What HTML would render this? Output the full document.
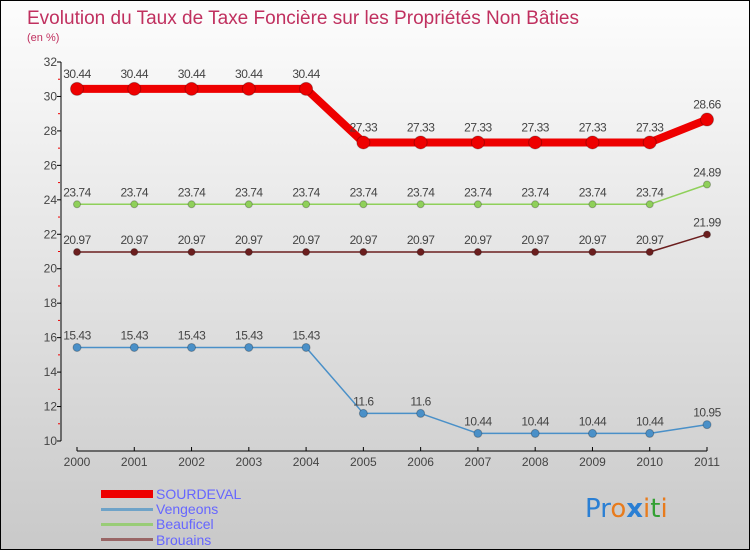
<!DOCTYPE html>
<html><head><meta charset="utf-8"><style>
body{margin:0}
#c{width:750px;height:550px;position:relative;overflow:hidden;box-sizing:border-box;border:1px solid #000;background:linear-gradient(#fdfdfd,#c9c9c9);font-family:"Liberation Sans",sans-serif}
</style></head><body>
<div id="c">
<svg id="s" width="750" height="550" style="position:absolute;left:0;top:0" font-family="Liberation Sans, sans-serif">
<text x="26" y="23" font-size="19" fill="#c0305f" textLength="552">Evolution du Taux de Taxe Foncière sur les Propriétés Non Bâties</text>
<text x="26" y="40" font-size="11" fill="#c0305f">(en %)</text>
<g id="ax"></g><g id="series"></g>
<g>
<rect x="100" y="489" width="52" height="8" fill="#ee0000"/>
<text x="155" y="498" font-size="14" fill="#6666ff">SOURDEVAL</text>
<rect x="100" y="507" width="52" height="3" fill="#6fa3c8"/>
<text x="155" y="513" font-size="14" fill="#6666ff">Vengeons</text>
<rect x="100" y="522" width="52" height="3" fill="#99cc77"/>
<text x="155" y="528" font-size="14" fill="#6666ff">Beauficel</text>
<rect x="100" y="537" width="52" height="3" fill="#996666"/>
<text x="155" y="544" font-size="14" fill="#6666ff">Brouains</text>
</g>
<g font-size="26" font-family="'DejaVu Sans',sans-serif">
<text x="584" y="516"><tspan fill="#2a7fd4">Pr</tspan><tspan fill="#e87b1c">o</tspan><tspan fill="#2a7fd4" font-weight="bold">x</tspan><tspan fill="#e87b1c">i</tspan><tspan fill="#33a033">t</tspan><tspan fill="#e87b1c">i</tspan></text>
</g>
</svg>
</div>
<script>
const years=[2000,2001,2002,2003,2004,2005,2006,2007,2008,2009,2010,2011];
const sourdeval=[30.44,30.44,30.44,30.44,30.44,27.33,27.33,27.33,27.33,27.33,27.33,28.66];
const vengeons=[15.43,15.43,15.43,15.43,15.43,11.6,11.6,10.44,10.44,10.44,10.44,10.95];
const beauficel=[23.74,23.74,23.74,23.74,23.74,23.74,23.74,23.74,23.74,23.74,23.74,24.89];
const brouains=[20.97,20.97,20.97,20.97,20.97,20.97,20.97,20.97,20.97,20.97,20.97,21.99];
const yTicks=[10,12,14,16,18,20,22,24,26,28,30,32];
const NS="http://www.w3.org/2000/svg";
const x=i=>76+i*(630/11);
const y=v=>440-(v-10)*(379/22);
function el(t,a,p){const e=document.createElementNS(NS,t);for(const k in a)e.setAttribute(k,a[k]);p.appendChild(e);return e;}
const ax=document.getElementById('ax');
let l=el('line',{x1:60,y1:y(32),x2:60,y2:y(10),stroke:'#000','stroke-width':1},ax);


l=el('line',{x1:x(0),y1:450,x2:x(11),y2:450,stroke:'#000','stroke-width':1},ax);


yTicks.forEach(v=>{
 el('line',{x1:56,y1:y(v),x2:60,y2:y(v),stroke:'#000'},ax);
 if(v<32) el('line',{x1:57,y1:y(v+1),x2:59,y2:y(v+1),stroke:'#e00'},ax);
 const t=el('text',{x:56,y:y(v)+4,'font-size':12,'text-anchor':'end',fill:'#444'},ax);t.textContent=v;
 
 
});
years.forEach((yr,i)=>{
 el('line',{x1:x(i),y1:446,x2:x(i),y2:450,stroke:'#000'},ax);
 const t=el('text',{x:x(i),y:465,'font-size':12,'text-anchor':'middle',fill:'#444'},ax);t.textContent=yr;
 
 
});
const sg=document.getElementById('series');
function draw(name,vals,color,w,r){
 const g=el('g',{},sg);
 
 
 el('polyline',{points:vals.map((v,i)=>x(i)+','+y(v)).join(' '),fill:'none',stroke:color,'stroke-width':w,'stroke-linejoin':'round'},g);
 vals.forEach((v,i)=>{
  const c=el('circle',{cx:x(i),cy:y(v),r:r,fill:color,stroke:'rgba(0,0,0,0.25)','stroke-width':1},g);
  
  
  const t=el('text',{x:x(i),y:y(v)-8-(r>4?3:0),'font-size':12,'text-anchor':'middle',fill:'#444','letter-spacing':'-0.5'},g);t.textContent=v;
  
  
 });
}
draw('vengeons',vengeons,'#4a90c8',1.5,4);
draw('brouains',brouains,'#6b1e1e',1.5,3.5);
draw('beauficel',beauficel,'#8fd05a',1.5,3.5);
draw('sourdeval',sourdeval,'#ee0000',8,6.5);
</script>
</body></html>
